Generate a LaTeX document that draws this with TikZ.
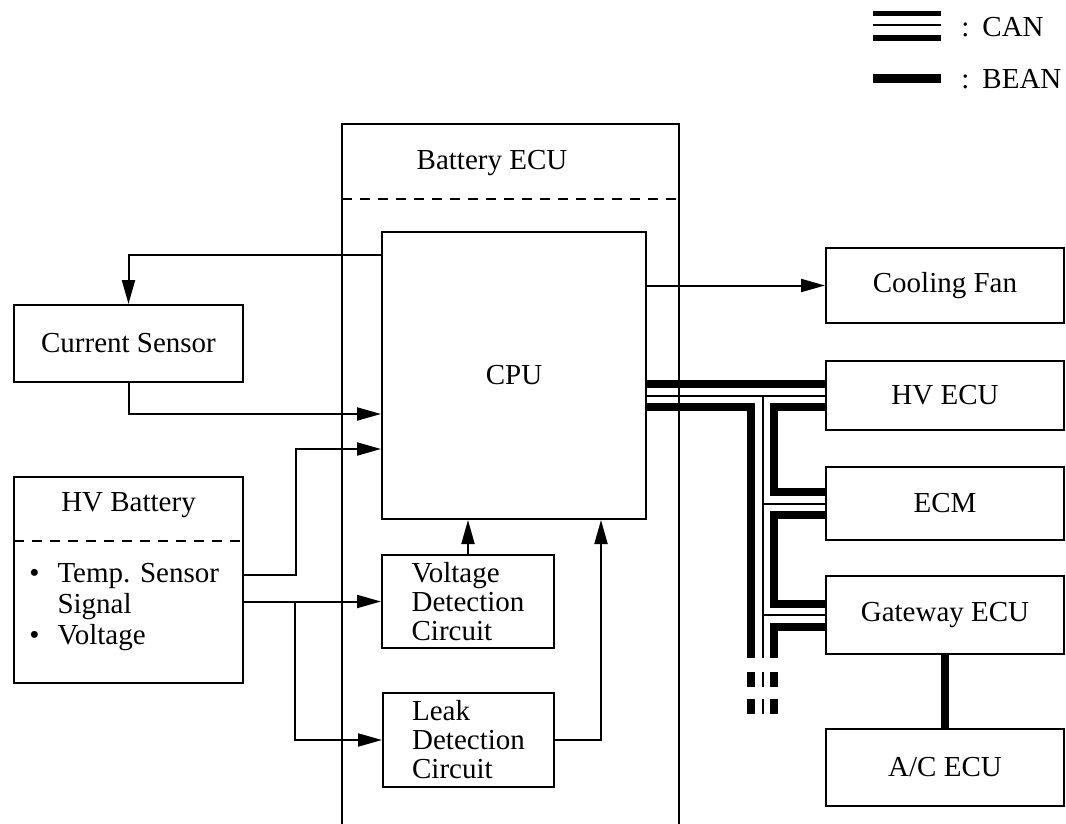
\documentclass[tikz,border=0pt]{standalone}
\usepackage{fontspec}
\setmainfont{Liberation Serif}
\usetikzlibrary{arrows.meta,calc,positioning}

\begin{document}
\begin{tikzpicture}[x=0.5pt, y=-0.5pt,
		every node/.style={font=\fontsize{14.5}{17}\selectfont},
		blk/.style={draw, line width=1pt, inner sep=0pt, align=left, font=\fontsize{14.5}{14.5}\selectfont},
		sig/.style={line width=1pt, -{Triangle[length=12pt,width=6.5pt]}},
		canline/.style={line width=1pt},
		beanline/.style={line width=4pt},
		sep/.style={line width=1pt, dash pattern=on 5pt off 4pt}]
	
	\useasboundingbox (0,0) rectangle (1066,824);
	
	% legend
	\begin{scope}
		\draw[line width=2.5pt] (873,14) -- (941,14);
		\draw[canline] (873,25.3) -- (941,25.3);
		\draw[line width=2.75pt] (873,38) -- (941,38);
		\node[anchor=west, inner sep=0pt] (lcan) at (961,27) {:\hspace{6.5pt}CAN};
		
		\draw[line width=4.6pt] (873,78.7) -- (941,78.7);
		\node[anchor=west, inner sep=0pt] (lbean) at (961,79) {:\hspace{6.5pt}BEAN};
	\end{scope}
	
	% battery ECU
	\draw[line width=1pt] (342,824) |- (679,124) -- (679,824);
	\node (becu) at (492,163) {Battery ECU};
	\draw[sep] (342,199) -- (679,199);
	
	\node[blk, minimum width=132pt, minimum height=143.5pt] (cpu) at (514,375.5) {CPU};
	\node[blk, minimum width=86pt, minimum height=46.5pt] (vdc) at (468,601.5) {Voltage\\Detection\\Circuit};
	\node[blk, minimum width=85.5pt, minimum height=47pt] (ldc) at (468.5,740) {Leak\\Detection\\Circuit};
	
	% left side
	\node[blk, minimum width=114.5pt, minimum height=38.5pt] (cs) at (128.5,343.5) {Current Sensor};
	\node[blk, minimum width=114.5pt, minimum height=103pt] (hvb) at (128.5,580) {};
	\node (hvbt) at (128.5,505) {HV Battery};
	\draw[sep] (14,541) -- (243,541);
	\node[anchor=west, inner sep=0pt, align=left, font=\fontsize{14.5}{15.5}\selectfont] (hvbl) at (29,607)
		{\textbullet\hspace{9pt}Temp. Sensor\\\phantom{\textbullet}\hspace{9pt}Signal\\\textbullet\hspace{9pt}Voltage};
	
	% right side
	\node[blk, minimum width=119pt, minimum height=37.5pt] (fan) at (945,285.5) {Cooling Fan};
	\node[blk, minimum width=119pt, minimum height=34.5pt] (hvecu) at (945,395.5) {HV ECU};
	\node[blk, minimum width=119pt, minimum height=36.5pt] (ecm) at (945,503.5) {ECM};
	\node[blk, minimum width=119pt, minimum height=39pt] (gw) at (945,615) {Gateway ECU};
	\node[blk, minimum width=119pt, minimum height=38.5pt] (ac) at (945,767.5) {A/C ECU};
	
	% signals
	\draw[sig] ([yshift=-12pt]cpu.north west) -| (cs.north);
	\draw[sig] (cs.south) |- ([yshift=-19.25pt]cpu.west);
	\draw[sig] ([yshift=2.5pt]hvb.east) -- ++(52,0) |- ([yshift=-36.75pt]cpu.west);
	\draw[sig] (hvb.east |- vdc.west) -- (vdc.west);
	\draw[sig] ($(hvb.east |- vdc.west)+(51,0)$) |- (ldc.west);
	\draw[sig] (vdc.north) -- (vdc.north |- cpu.south);
	\draw[sig] (ldc.east) -| ($(cpu.south)+(87,0)$);
	\draw[sig] (cpu.east |- fan.west) -- (fan.west);
	
	% CAN bus
	\coordinate (tr) at (762.5,0);
	\draw[beanline] ($(cpu.east |- hvecu.west)+(0,-11.5)$) -- ($(hvecu.west)+(0,-11.5)$);
	\draw[canline] (cpu.east |- hvecu.west) -- (hvecu.west);
	\draw[beanline] ($(cpu.east |- hvecu.west)+(0,11.5)$) -| ($(tr |- gw.west)+(-11.5,43)$);
	\draw[canline] (tr |- hvecu.west) -- ($(tr |- gw.west)+(0,43)$);
	\draw[beanline] ($(hvecu.west)+(0,11.5)$) -| ($(tr |- ecm.west)+(11.5,-11.5)$) -- ($(ecm.west)+(0,-11.5)$);
	\draw[canline] (tr |- ecm.west) -- (ecm.west);
	\draw[beanline] ($(ecm.west)+(0,11.5)$) -| ($(tr |- gw.west)+(11.5,-11.5)$) -- ($(gw.west)+(0,-11.5)$);
	\draw[canline] (tr |- gw.west) -- (gw.west);
	\draw[beanline] ($(gw.west)+(0,11.5)$) -| ($(tr |- gw.west)+(11.5,43)$);
	
	\foreach \dx/\w in {-11.5/4pt, 0/1pt, 11.5/4pt}
		\foreach \dy in {57,84}
			\draw[line width=\w] ($(tr |- gw.west)+(\dx,\dy)$) -- ++(0,15);
	
	% BEAN
	\draw[beanline] (gw.south) -- (ac.north);
\end{tikzpicture}
\end{document}
